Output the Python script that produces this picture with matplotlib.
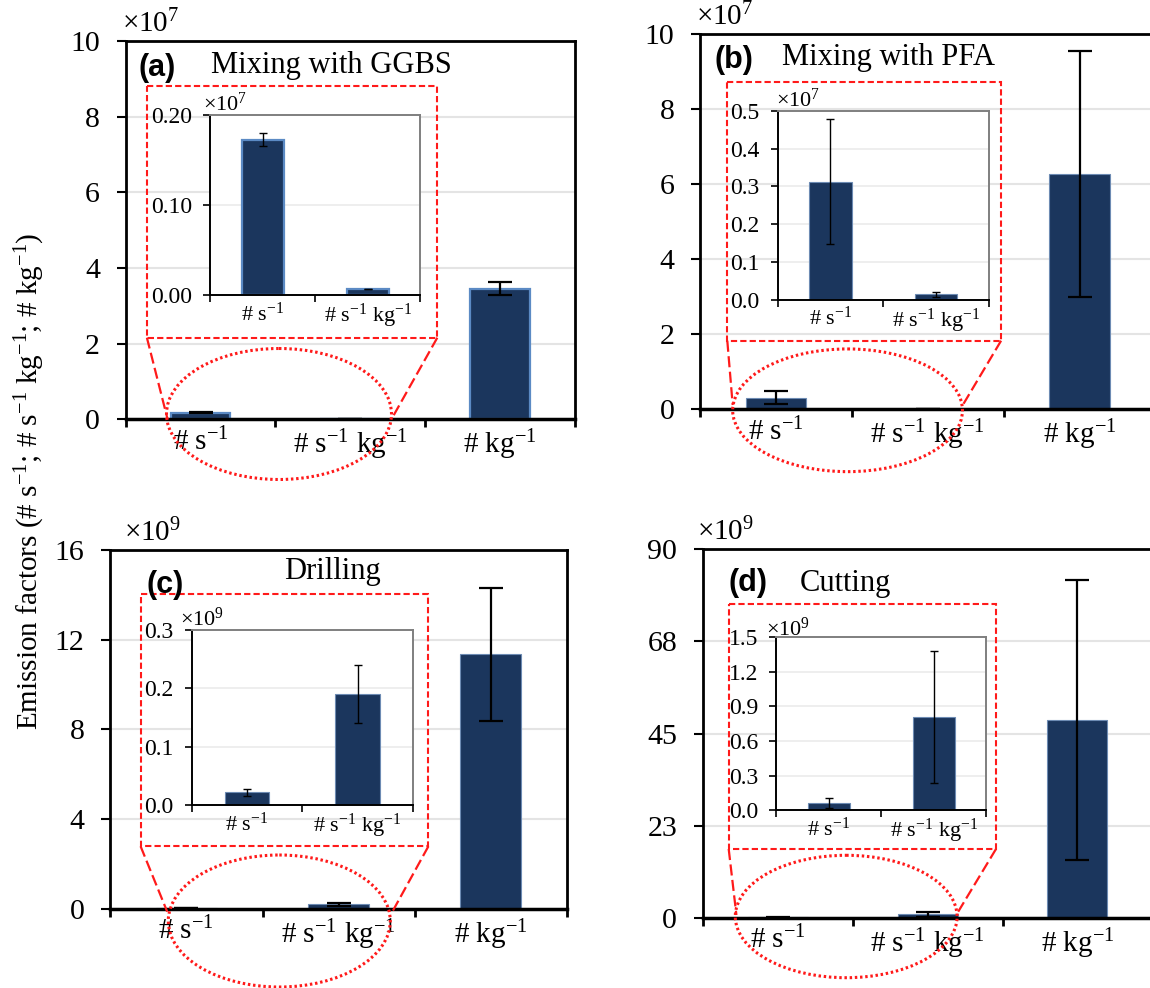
import matplotlib
matplotlib.use('Agg')
import matplotlib.pyplot as plt
from matplotlib.patches import Ellipse, Rectangle
from matplotlib.lines import Line2D
import numpy as np

plt.rcParams['font.family'] = ['Liberation Serif', 'DejaVu Serif']
plt.rcParams['mathtext.fontset'] = 'custom'
plt.rcParams['mathtext.rm'] = 'Liberation Serif'
plt.rcParams['mathtext.it'] = 'Liberation Serif:italic'
plt.rcParams['mathtext.bf'] = 'Liberation Serif:bold'
plt.rcParams['mathtext.default'] = 'regular'

W, H = 1150, 988

# ---- data (values expressed in units of each panel's multiplier) ----
categories = ['# s$^{-1}$', '# s$^{-1}$ kg$^{-1}$', '# kg$^{-1}$']

ggbs_mean = [0.173, 0.007, 3.45]
ggbs_err = [0.0075, 0.0005, 0.17]
pfa_mean = [0.313, 0.0145, 6.27]
pfa_err = [0.165, 0.0065, 3.28]
drilling_mean = [0.022, 0.19, 11.35]
drilling_err = [0.006, 0.05, 2.96]
cutting_mean = [0.063, 0.81, 48.4]
cutting_err = [0.047, 0.57, 34.2]

titles = ['Mixing with GGBS', 'Mixing with PFA', 'Drilling', 'Cutting']
letters = ['(a)', '(b)', '(c)', '(d)']
multipliers = ['×10$^{7}$', '×10$^{7}$', '×10$^{9}$', '×10$^{9}$']

main_yticks = [[0, 2, 4, 6, 8, 10], [0, 2, 4, 6, 8, 10],
               [0, 4, 8, 12, 16], [0, 22.5, 45, 67.5, 90]]
main_ylabels = [['0', '2', '4', '6', '8', '10'], ['0', '2', '4', '6', '8', '10'],
                ['0', '4', '8', '12', '16'], ['0', '23', '45', '68', '90']]
inset_yticks = [[0, 0.1, 0.2], [0, 0.1, 0.2, 0.3, 0.4, 0.5],
                [0, 0.1, 0.2, 0.3], [0, 0.3, 0.6, 0.9, 1.2, 1.5]]
inset_ylabels = [['0.00', '0.10', '0.20'],
                 ['0.0', '0.1', '0.2', '0.3', '0.4', '0.5'],
                 ['0.0', '0.1', '0.2', '0.3'],
                 ['0.0', '0.3', '0.6', '0.9', '1.2', '1.5']]

BAR = '#1b365d'

# ---- layout in pixels ----
layout = [
    dict(main=(125.8, 41.3, 574.5, 419.3), inset=(210.1, 115.3, 420.3, 295.3),
         rect=(146.9, 85.7, 437.3, 337.7), ell=(279, 414, 225, 131),
         lines=[((146.9, 337.7), (167.6, 419.3)), ((437.3, 337.7), (391.4, 419.3))],
         title=(211, 65), letter=(138, 68), mult=(122, 24), imult=(203, 104),
         edge='#5b8ac4', elw=1.6),
    dict(main=(700, 34.3, 1155.4, 409.3), inset=(777.5, 111, 989, 299.7),
         rect=(727.3, 81.7, 1001.1, 340.7), ell=(847.6, 410.3, 229.8, 122.7),
         lines=[((727.3, 340.7), (732.7, 405)), ((1001.1, 340.7), (961.8, 406.7))],
         title=(781.8, 58), letter=(714, 60), mult=(695.6, 17), imult=(775.6, 100),
         edge='#6d8bb3', elw=0.8),
    dict(main=(110.2, 550, 567.1, 908.7), inset=(191.6, 630, 412.9, 805.3),
         rect=(140.6, 593.7, 428.4, 846.3), ell=(279.3, 921, 222, 132),
         lines=[((140.6, 846.3), (167.2, 911.7)), ((428.4, 846.3), (392.2, 912))],
         title=(284, 571.7), letter=(146, 585), mult=(124, 533), imult=(180.5, 619),
         edge='#6d8bb3', elw=0.8),
    dict(main=(702.9, 549.3, 1152.3, 917.7), inset=(776.4, 637, 986.2, 810.3),
         rect=(728.7, 603.7, 996, 849), ell=(846.2, 916.5, 221.8, 122.4),
         lines=[((728.7, 849), (736.4, 915)), ((996, 849), (958.2, 911.7))],
         title=(800, 583), letter=(728, 583), mult=(697, 532), imult=(766, 629),
         edge='#6d8bb3', elw=0.8),
]

means = [ggbs_mean, pfa_mean, drilling_mean, cutting_mean]
errs = [ggbs_err, pfa_err, drilling_err, cutting_err]


def box(x0, y0, x1, y1):
    return [x0 / W, 1 - y1 / H, (x1 - x0) / W, (y1 - y0) / H]


def fx(x, y):
    return x / W, 1 - y / H


fig = plt.figure(figsize=(W / 100, H / 100), dpi=100)

for i in range(4):
    L = layout[i]
    ax = fig.add_axes(box(*L['main']))
    x = np.arange(3)
    ymax = main_yticks[i][-1]
    ax.bar(x, means[i], width=0.4, color=BAR, edgecolor=L['edge'],
           linewidth=L['elw'], zorder=2)
    ax.errorbar(x, means[i], yerr=errs[i], fmt='none', ecolor='black',
                elinewidth=1.6, capsize=8.5, capthick=1.6, zorder=3)
    ax.set_xlim(-0.5, 2.5)
    ax.set_ylim(0, ymax)
    ax.set_yticks(main_yticks[i])
    ax.set_yticklabels(main_ylabels[i])
    ax.set_xticks(x)
    ax.set_xticklabels(categories)
    ax.set_xticks([-0.5, 0.5, 1.5, 2.5], minor=True)
    ax.tick_params(axis='x', which='major', length=0, pad=6, labelsize=21)
    ax.tick_params(axis='x', which='minor', length=6, width=2, direction='out')
    ax.tick_params(axis='y', length=6.5, width=1.5, pad=12, labelsize=21.5)
    ax.yaxis.grid(True, color='#e4e4e4', lw=1.5)
    ax.set_axisbelow(True)
    for s in ax.spines.values():
        s.set_linewidth(2)
    ax.spines['bottom'].set_linewidth(2.5)

# overlay for the zoom markers
ov = fig.add_axes([0, 0, 1, 1])
ov.set_xlim(0, W)
ov.set_ylim(H, 0)
ov.axis('off')
ov.patch.set_alpha(0)
for L in layout:
    x0, y0, x1, y1 = L['rect']
    ov.add_patch(Rectangle((x0, y0), x1 - x0, y1 - y0, fill=False,
                           edgecolor='#ff1a1a', lw=1.5, linestyle=(0, (3, 1.5))))
    cx, cy, ew, eh = L['ell']
    ov.add_patch(Ellipse((cx, cy), ew, eh, fill=False, edgecolor='#ff1a1a',
                         lw=2.2, linestyle=(0, (0.8, 0.9))))
    for (a, b) in L['lines']:
        ov.add_line(Line2D([a[0], b[0]], [a[1], b[1]], color='#ff1a1a',
                           lw=1.6, linestyle=(0, (5, 2))))

# insets
for i in range(4):
    L = layout[i]
    ax = fig.add_axes(box(*L['inset']))
    x = np.arange(2)
    ax.bar(x, means[i][:2], width=0.4, color=BAR, edgecolor=L['edge'],
           linewidth=L['elw'], zorder=2)
    ax.errorbar(x, means[i][:2], yerr=errs[i][:2], fmt='none', ecolor='black',
                elinewidth=1.0, capsize=2.8, capthick=1.0, zorder=3)
    ax.set_xlim(-0.5, 1.5)
    ax.set_ylim(0, inset_yticks[i][-1])
    ax.set_yticks(inset_yticks[i])
    ax.set_yticklabels(inset_ylabels[i])
    ax.set_xticks(x)
    ax.set_xticklabels(categories[:2])
    ax.set_xticks([-0.5, 0.5, 1.5], minor=True)
    ax.tick_params(axis='x', which='major', length=0, pad=5, labelsize=16)
    ax.tick_params(axis='x', which='minor', length=5, width=1.2)
    ax.tick_params(axis='y', length=5, width=1.2, pad=8, labelsize=17)
    ax.yaxis.grid(True, color='#ebebeb', lw=1.2)
    ax.set_axisbelow(True)
    for k in ['left', 'bottom']:
        ax.spines[k].set_linewidth(1.4)
        ax.spines[k].set_color('black')
    for k in ['top', 'right']:
        ax.spines[k].set_linewidth(1.4)
        ax.spines[k].set_color('#7f7f7f')
    fig.text(*fx(*L['imult']), multipliers[i], fontsize=16, ha='left', va='center')

# titles, panel letters and multipliers
for i in range(4):
    L = layout[i]
    fig.text(*fx(*L['title']), titles[i], fontsize=22, ha='left', va='center')
    fig.text(*fx(*L['letter']), letters[i], fontsize=22, ha='left', va='center',
             family='Liberation Sans', weight='bold')
    fig.text(*fx(*L['mult']), multipliers[i], fontsize=21, ha='left', va='center')

fig.text(*fx(30, 481),
         'Emission factors (# s$^{-1}$; # s$^{-1}$ kg$^{-1}$; # kg$^{-1}$)',
         rotation=90, fontsize=21, ha='center', va='center')

fig.savefig('out.png', dpi=100)
